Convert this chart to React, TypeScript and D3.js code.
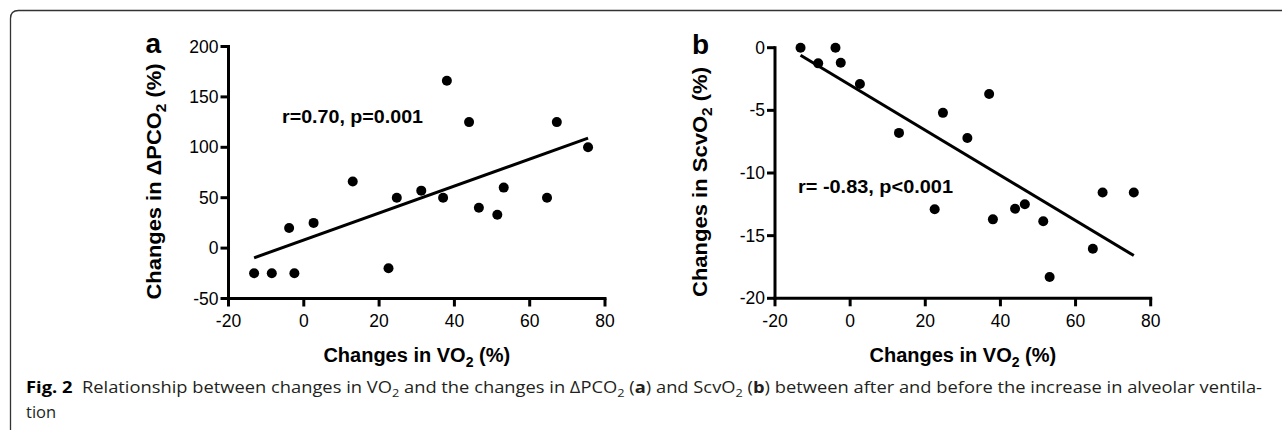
import React from "react";
import * as d3 from "d3";

// Shared x values (changes in VO2, %)
const vo2 = [-13.2, -8.5, -3.9, -2.5, 2.6, 13.0, 22.5, 24.7, 31.2, 37.0, 38.0, 43.9, 46.5, 51.4, 53.1, 64.6, 67.2, 75.5];
// Panel a: changes in ΔPCO2 (%)
const dPco2 = [-25, -25, 20, -25, 25, 66, -20, 50, 57, 50, 166, 125, 40, 33, 60, 50, 125, 100];
// Panel b: changes in ScvO2 (%)
const scvo2 = [0, -1.25, 0, -1.2, -2.9, -6.8, -12.9, -5.2, -7.2, -3.7, -13.7, -12.85, -12.5, -13.85, -18.3, -16.05, -11.55, -11.55];

const xTicks = [-20, 0, 20, 40, 60, 80];
const yTicksA = [-50, 0, 50, 100, 150, 200];
const yTicksB = [-20, -15, -10, -5, 0];

const statA = "r=0.70, p=0.001";
const statB = "r= -0.83, p<0.001";

function fit(xs: number[], ys: number[]) {
  const mx = d3.mean(xs)!;
  const my = d3.mean(ys)!;
  let sxy = 0, sxx = 0;
  xs.forEach((x, i) => { sxy += (x - mx) * (ys[i] - my); sxx += (x - mx) * (x - mx); });
  const b = sxy / sxx;
  return { a: my - b * mx, b };
}

const FONT = "'Liberation Sans', Arial, Helvetica, sans-serif";

type PanelProps = {
  letter: string;
  x0: number;
  x1: number;
  yTop: number;
  yBot: number;
  yDomain: [number, number];
  yTicks: number[];
  ys: number[];
  yLabel: React.ReactNode;
  yLabelLen: number;
  stat: string;
  statX: number;
  statY: number;
  statLen: number;
};

function Panel(p: PanelProps) {
  const x = d3.scaleLinear().domain([-20, 80]).range([p.x0, p.x1]);
  const y = d3.scaleLinear().domain(p.yDomain).range([p.yBot, p.yTop]);
  const f = fit(vo2, p.ys);
  const xmin = d3.min(vo2)!;
  const xmax = d3.max(vo2)!;
  const axisX = p.x0;
  const axisY = p.yBot;
  return (
    <g>
      <text x={axisX - 83} y={p.yTop + 6} fontFamily={FONT} fontWeight="bold" fontSize={28} fill="#000">{p.letter}</text>
      <text transform={`translate(${axisX - 68},${(p.yTop + p.yBot) / 2 + 9}) rotate(-90)`} textAnchor="middle"
        fontFamily={FONT} fontWeight="bold" fontSize={20} fill="#000"
        textLength={p.yLabelLen} lengthAdjust="spacingAndGlyphs">{p.yLabel}</text>
      <text x={(p.x0 + p.x1) / 2} y={362} textAnchor="middle" fontFamily={FONT} fontWeight="bold" fontSize={20} fill="#000">
        Changes in VO<tspan fontSize={14} dy={5}>2</tspan><tspan dy={-5}> (%)</tspan>
      </text>
      <line x1={axisX} x2={axisX} y1={y(p.yDomain[1]) - 1.5} y2={axisY + 1.5} stroke="#000" strokeWidth={3} />
      <line x1={axisX - 1.5} x2={p.x1 + 1.5} y1={axisY} y2={axisY} stroke="#000" strokeWidth={3} />
      {p.yTicks.map((t) => (
        <g key={"y" + t}>
          <line x1={axisX - 8} x2={axisX} y1={y(t)} y2={y(t)} stroke="#000" strokeWidth={3} />
          <text x={axisX - 10} y={y(t) + 6} textAnchor="end" fontFamily={FONT} fontSize={17.5} fill="#000">{t}</text>
        </g>
      ))}
      {xTicks.map((t) => (
        <g key={"x" + t}>
          <line x1={x(t)} x2={x(t)} y1={axisY} y2={axisY + 8} stroke="#000" strokeWidth={3} />
          <text x={x(t)} y={327} textAnchor="middle" fontFamily={FONT} fontSize={17.5} fill="#000">{t}</text>
        </g>
      ))}
      <line x1={x(xmin)} y1={y(f.a + f.b * xmin)} x2={x(xmax)} y2={y(f.a + f.b * xmax)} stroke="#000" strokeWidth={3} />
      {vo2.map((v, i) => (
        <circle key={i} cx={x(v)} cy={y(p.ys[i])} r={5} fill="#000" />
      ))}
      <text x={p.statX} y={p.statY} fontFamily={FONT} fontWeight="bold" fontSize={19} fill="#000"
        textLength={p.statLen} lengthAdjust="spacingAndGlyphs">{p.stat}</text>
    </g>
  );
}

export default function App() {
  return (
    <svg width={1282} height={430} style={{ position: "absolute", left: 0, top: 0, background: "#fff" }}>
      <rect x={0} y={0} width={1282} height={430} fill="#fff" />
      <path d="M10.5,430 V18.5 Q10.5,10.5 18.5,10.5 H1282" fill="none" stroke="#333" strokeWidth={1.3} />
      <Panel letter="a" x0={228.5} x1={605} yTop={46.5} yBot={298.5} yDomain={[-50, 200]} yTicks={yTicksA} ys={dPco2}
        yLabel={<>Changes in ΔPCO<tspan fontSize={14} dy={5}>2</tspan><tspan dy={-5}> (%)</tspan></>} yLabelLen={236}
        stat={statA} statX={282} statY={123} statLen={141} />
      <Panel letter="b" x0={775} x1={1150.7} yTop={47.7} yBot={298.3} yDomain={[-20, 0]} yTicks={yTicksB} ys={scvo2}
        yLabel={<>Changes in ScvO<tspan fontSize={14} dy={5}>2</tspan><tspan dy={-5}> (%)</tspan></>} yLabelLen={230}
        stat={statB} statX={798} statY={193} statLen={155} />
      <text x={26} y={393} fontFamily="'Open Sans', sans-serif" fontSize={16.5} fill="#231f20" textLength={1236} lengthAdjust="spacingAndGlyphs">
        <tspan fontWeight="bold" fill="#000">Fig. 2</tspan>{"\u00a0 Relationship between changes in VO"}<tspan fontSize={11.5} dy={4}>2</tspan>
        <tspan dy={-4}>{" and the changes in ΔPCO"}</tspan><tspan fontSize={11.5} dy={4}>2</tspan>
        <tspan dy={-4}>{" ("}</tspan><tspan fontWeight="bold">a</tspan>{") and ScvO"}<tspan fontSize={11.5} dy={4}>2</tspan>
        <tspan dy={-4}>{" ("}</tspan><tspan fontWeight="bold">b</tspan>{") between after and before the increase in alveolar ventila-"}
      </text>
      <text x={26} y={418} fontFamily="'Open Sans', sans-serif" fontSize={16.5} fill="#231f20">tion</text>
    </svg>
  );
}
